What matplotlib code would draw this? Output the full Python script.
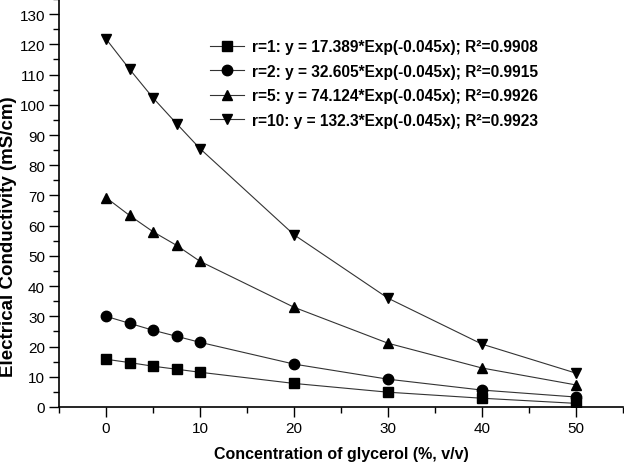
import matplotlib
matplotlib.use("Agg")
import matplotlib.pyplot as plt
from matplotlib.ticker import MultipleLocator

plt.rcParams['font.family'] = ['Liberation Sans', 'DejaVu Sans']

x = [0, 2.5, 5, 7.5, 10, 20, 30, 40, 50]
r1 = [15.8, 14.7, 13.5, 12.5, 11.5, 7.8, 4.9, 2.9, 1.2]
r2 = [30.0, 27.7, 25.4, 23.4, 21.4, 14.2, 9.2, 5.6, 3.3]
r5 = [69.3, 63.4, 58.0, 53.5, 48.2, 33.0, 21.1, 12.9, 7.3]
r10 = [121.8, 111.8, 102.3, 93.8, 85.5, 57.0, 36.0, 20.8, 11.2]

labels = [
    "r=1: y = 17.389*Exp(-0.045x); R²=0.9908",
    "r=2: y = 32.605*Exp(-0.045x); R²=0.9915",
    "r=5: y = 74.124*Exp(-0.045x); R²=0.9926",
    "r=10: y = 132.3*Exp(-0.045x); R²=0.9923",
]
series = [r1, r2, r5, r10]
markers = ['s', 'o', '^', 'v']

fig = plt.figure(figsize=(6.24, 4.64), dpi=100)
ax = fig.add_axes([59/624, 1 - 408/464, (623-59)/624, 408/464])

for ys, m, lab in zip(series, markers, labels):
    ax.plot(x, ys, color='#333333', lw=0.8, marker=m, markersize=7.5,
            markerfacecolor='black', markeredgecolor='black', label=lab)

ax.set_xlim(-5, 55)
ax.set_ylim(0, 135)
ax.xaxis.set_major_locator(MultipleLocator(10))
ax.xaxis.set_minor_locator(MultipleLocator(5))
ax.yaxis.set_major_locator(MultipleLocator(10))
ax.yaxis.set_minor_locator(MultipleLocator(5))
for s in ['top', 'right']:
    ax.spines[s].set_visible(False)
for s in ['left', 'bottom']:
    ax.spines[s].set_linewidth(1.2)
ax.tick_params(which='major', direction='out', length=7, width=1.0, labelsize=11, pad=3)
ax.tick_params(which='minor', direction='out', length=4, width=1.0)
ax.set_xticks([0, 10, 20, 30, 40, 50])
ax.set_yticks(range(0, 131, 10))

ax.set_xlabel("Concentration of glycerol (%, v/v)", fontsize=11.5, fontweight='bold', labelpad=8)
fig.text(9/624, 1 - 237/464, "Electrical Conductivity (mS/cm)", rotation=90,
         ha='center', va='center', fontsize=13.5, fontweight='bold')

leg = ax.legend(loc='upper left', bbox_to_anchor=(0.268, 0.902), frameon=False,
                prop={'weight': 'bold', 'size': 11.2}, handlelength=2.2,
                handletextpad=0.5, labelspacing=0.62, borderaxespad=0, borderpad=0)

fig.savefig("out.png", dpi=100)
